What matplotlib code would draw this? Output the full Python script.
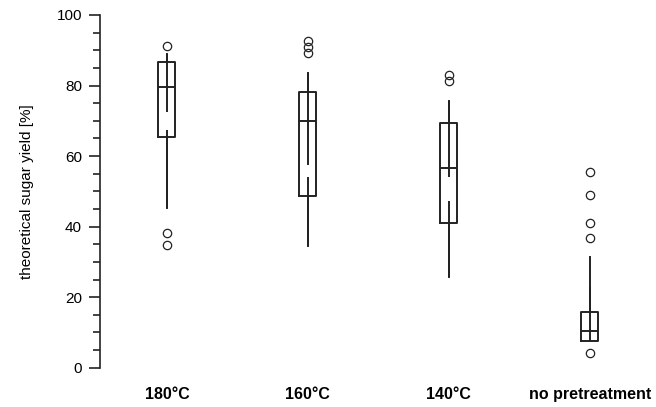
import matplotlib
matplotlib.use("Agg")
import matplotlib.pyplot as plt
from matplotlib.ticker import MultipleLocator

plt.rcParams["font.family"] = ["Liberation Sans", "DejaVu Sans"]

# box plot values
categories = ["180°C", "160°C", "140°C", "no pretreatment"]
q1 = [65.3, 48.8, 41.1, 7.6]
med = [79.6, 70.0, 56.7, 10.5]
q3 = [86.7, 78.3, 69.5, 15.9]
whislo = [45.4, 34.6, 25.6, 7.6]
whishi = [88.9, 83.5, 75.7, 31.5]
fliers = [
    [91.3, 38.3, 34.7],
    [92.6, 91.0, 89.3],
    [83.0, 81.4],
    [55.6, 49.0, 41.1, 36.9, 4.2],
]
# inner line gap (line runs from whisker ends to these values)
gap_hi = [72.5, 57.4, 54.0, 31.5]
gap_lo = [67.3, 54.2, 47.3, 23.0]

col = "#222222"
lw = 1.4

fig = plt.figure(figsize=(6.56, 4.07), dpi=100)
ax = fig.add_axes([100 / 656, (407 - 367.7) / 407, 556 / 656, (367.7 - 15) / 407])

stats = []
for i in range(len(categories)):
    stats.append(dict(label=categories[i], q1=q1[i], med=med[i], q3=q3[i],
                      whislo=whislo[i], whishi=whishi[i], fliers=fliers[i]))

pos = list(range(1, len(categories) + 1))
ax.bxp(stats, positions=pos, widths=0.12, showcaps=False,
       boxprops=dict(color=col, lw=lw),
       medianprops=dict(color=col, lw=lw),
       whiskerprops=dict(color=col, lw=lw),
       flierprops=dict(marker="o", markerfacecolor="none", markeredgecolor=col,
                       markersize=6, markeredgewidth=0.9))

for i, p in enumerate(pos):
    # last group's inner line sits a hair off the whisker, so it looks thicker
    dx = 0.005 if i == len(pos) - 1 else 0.0
    ax.vlines(p + dx, gap_hi[i], whishi[i], color=col, lw=lw)
    ax.vlines(p + dx, whislo[i], gap_lo[i], color=col, lw=lw)

ax.set_ylim(0, 100)
ax.set_xlim(0.525, 4.47)
ax.yaxis.set_major_locator(MultipleLocator(20))
ax.yaxis.set_minor_locator(MultipleLocator(5))
ax.tick_params(axis="y", which="major", length=8, width=1.2, labelsize=11, pad=5, color=col)
ax.tick_params(axis="y", which="minor", length=5, width=1.2, color=col)
ax.tick_params(axis="x", length=0, pad=14)
ax.set_xticks(pos)
ax.set_xticklabels(categories, fontsize=11.5, fontweight="bold")
for s in ["top", "right", "bottom"]:
    ax.spines[s].set_visible(False)
ax.spines["left"].set_linewidth(1.2)
ax.spines["left"].set_color(col)
ax.set_ylabel("theoretical sugar yield [%]", fontsize=11, labelpad=16)

fig.savefig("out.png", dpi=100)
